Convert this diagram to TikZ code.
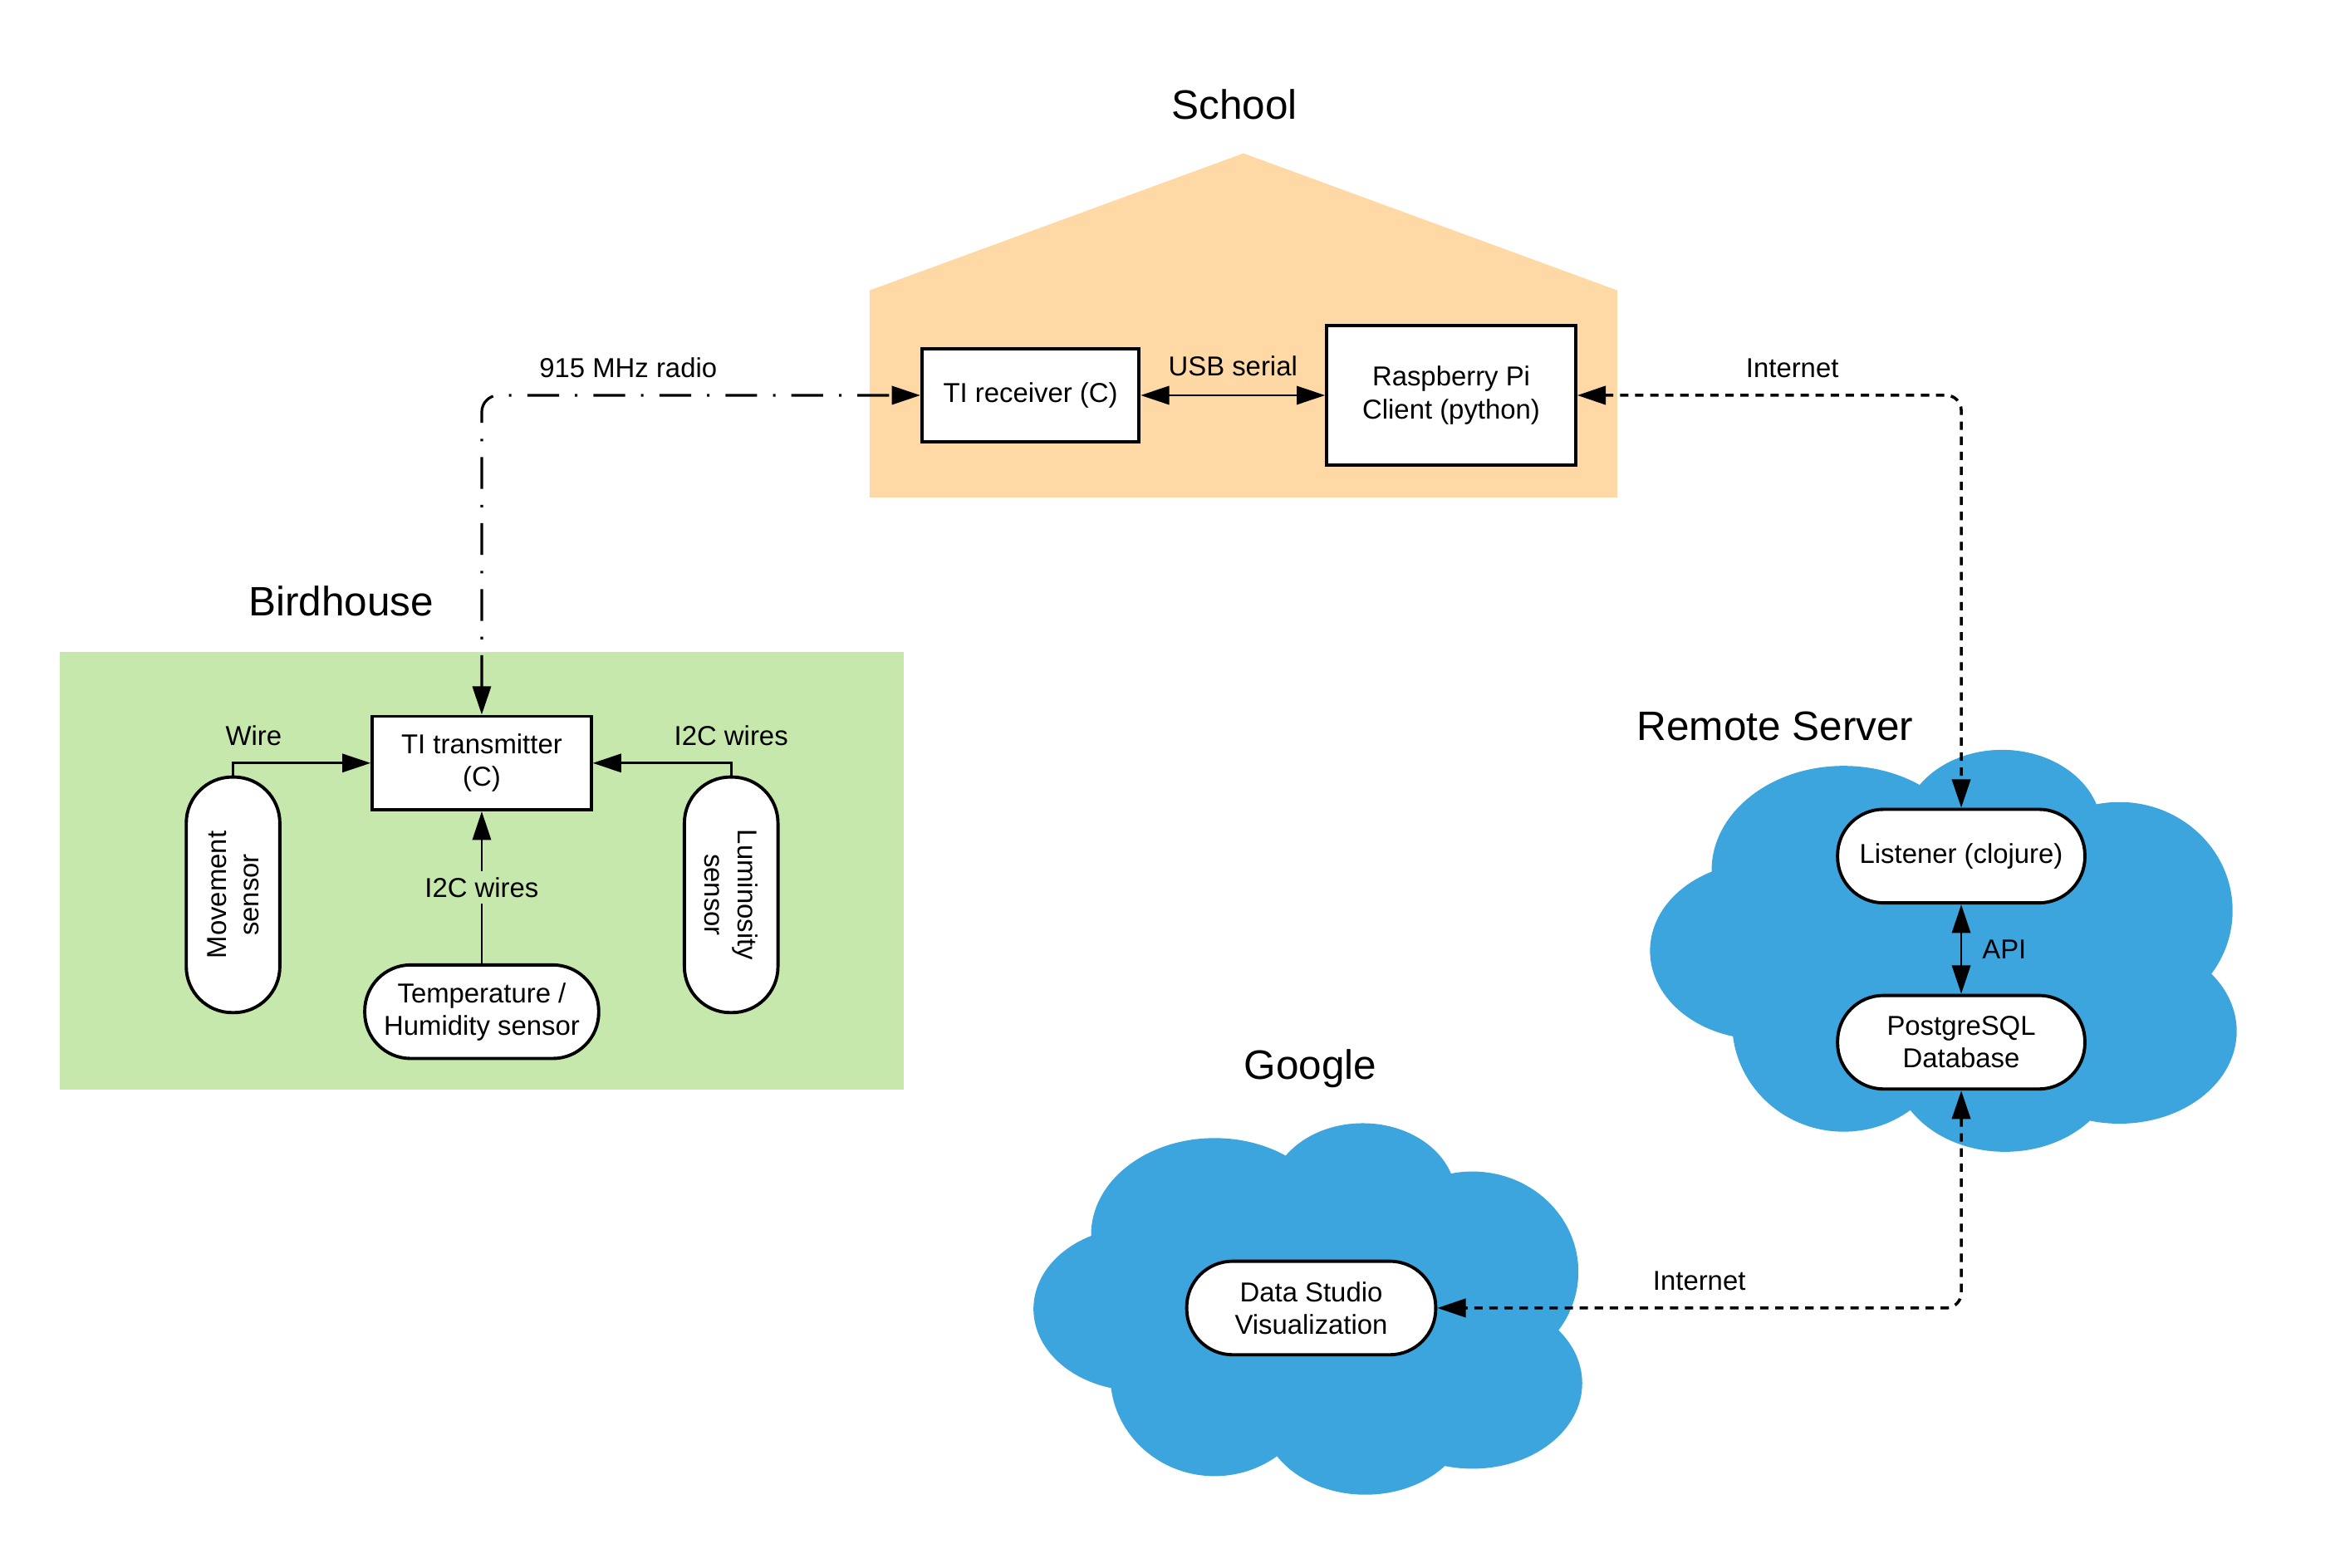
\documentclass[tikz,border=0pt]{standalone}
\usepackage{fontspec}
\setmainfont{Liberation Sans}
\usetikzlibrary{arrows.meta}

\definecolor{schoolorange}{HTML}{FED9A6}
\definecolor{birdgreen}{HTML}{C7E8AC}
\definecolor{cloudblue}{HTML}{3CA5DD}

% cloud from overlapping ellipses: top left (#1,#2), width #3, height #4
\newcommand{\cloudshape}[4]{%
  \begin{scope}[shift={(#1,#2)}, xscale=#3, yscale=#4]
    \foreach \cx/\cy/\rx/\ry in {0.33/0.30/0.225/0.26, 0.60/0.20/0.17/0.20,
        0.80/0.40/0.193/0.27, 0.80/0.70/0.20/0.23, 0.605/0.78/0.19/0.22,
        0.33/0.68/0.19/0.27, 0.19/0.50/0.19/0.22, 0.50/0.50/0.35/0.35}
      \fill[cloudblue] (\cx,\cy) ellipse [x radius=\rx, y radius=\ry];
  \end{scope}}

\begin{document}
\begin{tikzpicture}[x=0.017816cm, y=-0.017816cm,
        font=\fontsize{9.3}{11.1}\selectfont,
        >={Triangle[length=0.34cm,width=0.22cm]},
        box/.style = {draw, fill=white, line width=1.1pt, align=center},
        term/.style = {draw, fill=white, rounded corners=0.55cm, line width=1.1pt,
                       align=center, minimum height=1.12cm},
        title/.style = {font=\fontsize{14}{17}\selectfont},
        wire/.style = {line width=0.8pt},
        net/.style = {line width=1pt, dash pattern=on 0.1cm off 0.08cm,
                      rounded corners=0.18cm},
        radio/.style = {line width=0.9pt,
                        dash pattern=on 0.38cm off 0.19cm on 0.03cm off 0.19cm,
                        rounded corners=0.2cm}]

    \useasboundingbox (0,0) rectangle (1568,1053);

    % School
    \fill[schoolorange] (584,334) -- (584,195) -- (835,103) -- (1086,195) -- (1086,334) -- cycle;
    \node[title] (schooltitle) at (829,70) {School};
    \node[box, minimum width=2.60cm, minimum height=1.12cm] (rx) at (692,265.5) {TI receiver (C)};
    \node[box, minimum width=2.98cm, minimum height=1.675cm] (pi) at (974.5,265.5) {Raspberry Pi\\Client (python)};

    % Birdhouse
    \fill[birdgreen] (40,438) rectangle (607,732);
    \node[title] (birdtitle) at (229,404) {Birdhouse};
    \node[box, minimum width=2.62cm, minimum height=1.12cm] (tx) at (323.5,512.5) {TI transmitter\\(C)};
    \node[term, rotate=90, minimum width=2.82cm] (move) at (156.5,601) {Movement\\sensor};
    \node[term, rotate=-90, minimum width=2.82cm] (lum) at (491,601) {Luminosity\\sensor};
    \node[term, minimum width=2.80cm] (temp) at (323.5,679.5) {Temperature /\\Humidity sensor};

    % Remote server
    \cloudshape{1108}{503.6}{394}{270}
    \node[title] (servertitle) at (1192,488) {Remote Server};
    \node[term, minimum width=2.96cm] (listen) at (1317,575) {Listener (clojure)};
    \node[term, minimum width=2.96cm] (db) at (1317,700) {PostgreSQL\\Database};

    % Google
    \cloudshape{694}{754.4}{368.5}{249.5}
    \node[title] (googletitle) at (880,718) {Google};
    \node[term, minimum width=2.98cm] (viz) at (880.5,878.5) {Data Studio\\Visualization};

    % Connections
    \draw[wire, <->] (rx.east) -- (pi.west) node[midway, above=0.1cm] {USB serial};
    \draw[radio, <->] (tx.north) |- (rx.west) node[pos=0.667, above=0.08cm] {915 MHz radio};
    \draw[net, <->] (pi.east) -| (listen.north) node[pos=0.28, above=0.08cm] {Internet};
    \draw[net, <->] (db.south) |- (viz.east) node[pos=0.75, above=0.08cm] {Internet};
    \draw[wire, <->] (listen.south) -- (db.north) node[midway, right=0.12cm] {API};
    \draw[wire, ->] (move.east) |- (tx.west) node[pos=0.575, above=0.08cm] {Wire};
    \draw[wire, ->] (lum.west) |- (tx.east) node[pos=0.5, above=0.08cm] {I2C wires};
    \draw[wire, ->] (temp.north) -- (tx.south) node[midway, fill=birdgreen, inner sep=2pt] {I2C wires};

\end{tikzpicture}
\end{document}
